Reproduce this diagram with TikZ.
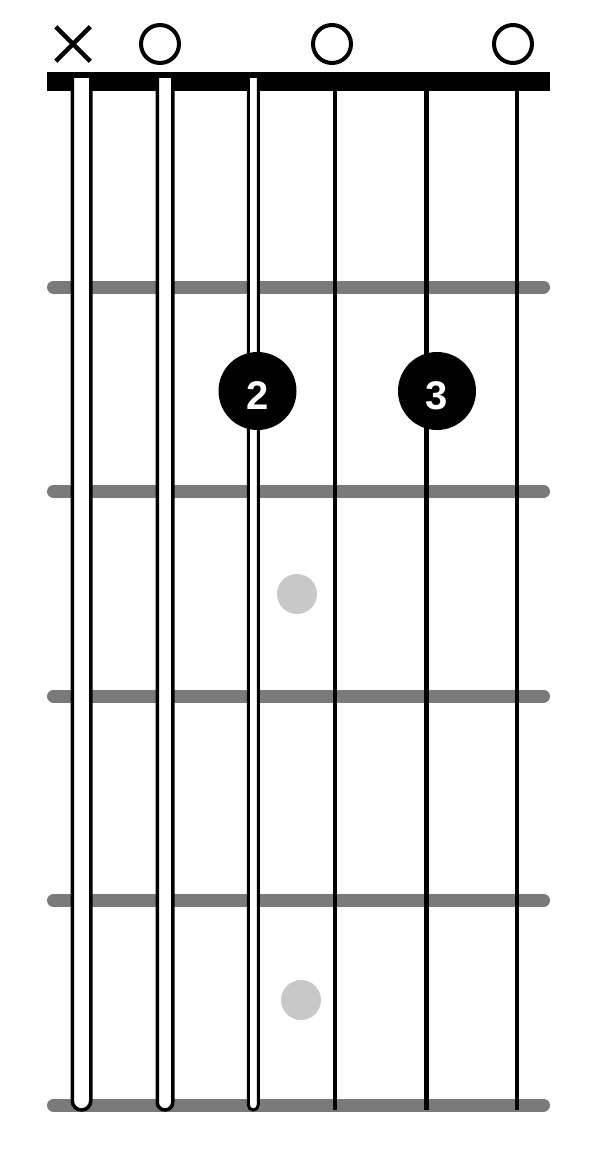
\documentclass[tikz,border=0pt]{standalone}
\usepackage{fontspec}
\setsansfont{Liberation Sans}
\usetikzlibrary{shapes.misc}
\definecolor{fretgray}{HTML}{7A7A7A}
\definecolor{dotgray}{HTML}{C8C8C8}
\tikzset{
  finger/.style={circle,fill=black,minimum size=78pt,inner sep=0pt},
  fingerlabel/.style={text=white,inner sep=0pt,font=\sffamily\bfseries\fontsize{40}{40}\selectfont},
  ghost/.style={circle,fill=dotgray,minimum size=40pt,inner sep=0pt},
  openmark/.style={circle,draw=black,line width=4pt,minimum size=38pt,inner sep=0pt},
  mutemark/.style={cross out,draw=black,line width=4.5pt,minimum size=30pt,inner sep=0pt}
}

\begin{document}
\begin{tikzpicture}[x=1pt,y=-1pt]
  \pgfmathsetmacro{\nutTop}{72}
  \pgfmathsetmacro{\nutBottom}{91}
  \pgfmathsetmacro{\neckLeft}{47}
  \pgfmathsetmacro{\neckRight}{550}
  \pgfmathsetmacro{\stringTop}{78}
  \pgfmathsetmacro{\stringBottom}{1110}
  \pgfmathsetmacro{\fretWidth}{13}

  \fill[white] (0,0) rectangle (606,1172);
  \useasboundingbox (0,0) rectangle (606,1172);

  % Bünde
  \foreach \y in {287,491.5,696,900.5,1105}
    \draw[fretgray,line width=\fretWidth pt,line cap=round]
      (\neckLeft+\fretWidth/2,\y) -- (\neckRight-\fretWidth/2,\y);

  % Sattel
  \fill (\neckLeft,\nutTop) rectangle (\neckRight,\nutBottom);

  % Umsponnene Saiten
  \foreach \x/\w/\lw in {81.5/18.5/3.5,165/15.5/3.5,253.3/10/3}{
    \pgfmathsetmacro{\halfW}{\w/2}
    \draw[line width=\lw pt,fill=white] (\x-\halfW,\stringTop) -- (\x-\halfW,\stringBottom-\halfW)
      arc[start angle=180,end angle=0,radius=\halfW] -- (\x+\halfW,\stringTop);
  }

  % Blanke Saiten
  \foreach \x/\lw in {335/3.5,426.7/5.5,517.3/4}
    \draw[line width=\lw pt] (\x,\stringTop) -- (\x,\stringBottom);

  % Leer- und Dämpfzeichen
  \node[mutemark] (mute) at (73,44) {};
  \node[openmark] (open2) at (160,44) {};
  \node[openmark] (open4) at (332,44) {};
  \node[openmark] (open6) at (513,44) {};

  % Finger
  \node[finger] (finger2) at (257.5,391) {};
  \node[fingerlabel] (finger2label) at ([yshift=-5pt]finger2.center) {2};
  \node[finger] (finger3) at (437,391) {};
  \node[fingerlabel] (finger3label) at ([yshift=-5pt]finger3.center) {3};

  % Hilfspunkte
  \node[ghost] (ghost1) at (297,594) {};
  \node[ghost] (ghost2) at (301,1000) {};
\end{tikzpicture}
\end{document}
